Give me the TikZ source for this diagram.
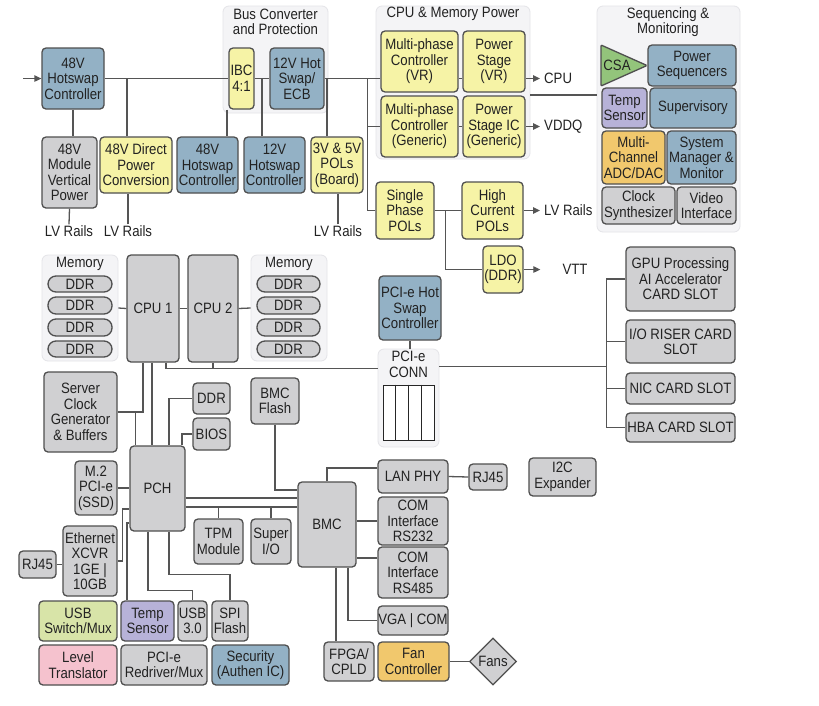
\documentclass[tikz,border=0pt]{standalone}
\usepackage{fontspec}
\setmainfont{Liberation Sans}[FakeStretch=0.88]
\usetikzlibrary{shapes.geometric,arrows.meta,calc}
\definecolor{edge}{HTML}{4F4F4F}
\definecolor{lc}{HTML}{555555}
\definecolor{txt}{HTML}{222222}
\definecolor{blueF}{HTML}{93B1C5}
\definecolor{yelF}{HTML}{F6F3A6}
\definecolor{grayF}{HTML}{D0D0D2}
\definecolor{orF}{HTML}{F1C86D}
\definecolor{grnF}{HTML}{93C47B}
\definecolor{usbF}{HTML}{D8E4A8}
\definecolor{purF}{HTML}{B7B2D8}
\definecolor{pinkF}{HTML}{F5C2CE}
\definecolor{grpF}{HTML}{F4F4F6}
\definecolor{grpE}{HTML}{E4E4E8}
\newcommand\dfont{\fontsize{15}{15.5}\selectfont}
\pgfdeclarelayer{bg}
\pgfdeclarelayer{mid}
\pgfsetlayers{bg,mid,main}
\tikzset{
  box/.style={draw=edge, line width=1.3pt, rounded corners=4pt, inner sep=0pt, align=center, text=txt, font=\dfont},
  blue/.style={fill=blueF}, yel/.style={fill=yelF}, gry/.style={fill=grayF},
  org/.style={fill=orF}, usbg/.style={fill=usbF}, pur/.style={fill=purF}, pnk/.style={fill=pinkF},
  pill/.style={fill=grayF, rounded corners=8pt},
  grp/.style={draw=grpE, fill=grpF, line width=0.8pt, rounded corners=6pt, inner sep=0pt},
  ttl/.style={align=center, inner sep=0pt, text=txt, font=\dfont},
  lbl/.style={inner sep=1pt, text=txt, font=\dfont},
  conn/.style={draw=lc, line width=1.3pt},
  arr/.style={conn, -{Triangle[length=7pt,width=6.5pt]}},
}
\newcommand\bx[7][]{\node[box,#1,minimum width={(#5)-(#3)},minimum height={(#6)-(#4)}] (#2) at ({(#3+#5)/2},{(#4+#6)/2}) {#7};}
\newcommand\gp[5]{\node[grp,minimum width={(#4)-(#2)},minimum height={(#5)-(#3)}] (#1) at ({(#2+#4)/2},{(#3+#5)/2}) {};}
\begin{document}
\begin{tikzpicture}[x=1pt,y=-1pt]
\useasboundingbox (0,0) rectangle (819,705);
\begin{pgfonlayer}{bg}
\fill[white] (0,0) rectangle (819,705);
\gp{bcp}{223}{6}{328}{113}
\gp{cpm}{376}{6}{530}{159}
\gp{seq}{597}{6}{740}{232}
\gp{memL}{42}{255}{118}{361}
\gp{memR}{251}{255}{327}{361}
\gp{pcc}{378}{349}{439}{447}
\end{pgfonlayer}
% group titles
\node[ttl] (t1) at (275.5,22) {Bus Converter\\and Protection};
\node[ttl] (t2) at (453,14) {CPU \& Memory Power};
\node[ttl] (t3) at (668,22) {Sequencing \&\\Monitoring};
\node[ttl] (t4) at (80,264) {Memory};
\node[ttl] (t5) at (289,264) {Memory};
\node[ttl] (t6) at (408.5,364.5) {PCI-e\\CONN};
% power, top
\bx[blue]{hsA}{42}{48}{104}{109}{48V\\Hotswap\\Controller}
\bx[yel]{ibc}{229}{48}{254}{109}{IBC\\4:1}
\bx[blue]{hsB}{270}{48}{324}{109}{12V Hot\\Swap/\\ECB}
\bx[gry]{mod}{42}{137}{97}{208}{48V\\Module\\Vertical\\Power}
\bx[yel]{dpc}{100}{137}{172}{193}{48V Direct\\Power\\Conversion}
\bx[blue]{hsC}{177}{137}{238}{193}{48V\\Hotswap\\Controller}
\bx[blue]{hsD}{244}{137}{305}{193}{12V\\Hotswap\\Controller}
\bx[yel]{pol}{311}{137}{363}{193}{3V \& 5V\\POLs\\(Board)}
\node[lbl] (lv1) at (69,231) {LV Rails};
\node[lbl] (lv2) at (128,231) {LV Rails};
\node[lbl] (lv3) at (338,231) {LV Rails};
% CPU & memory power
\bx[yel]{mpvr}{381}{31}{458}{92}{Multi-phase\\Controller\\(VR)}
\bx[yel]{psvr}{463}{31}{525}{92}{Power\\Stage\\(VR)}
\bx[yel]{mpg}{381}{96}{458}{157}{Multi-phase\\Controller\\(Generic)}
\bx[yel]{psg}{463}{96}{525}{157}{Power\\Stage IC\\(Generic)}
\bx[yel]{sp}{376}{182}{434}{239}{Single\\Phase\\POLs}
\bx[yel]{hc}{462}{182}{523}{239}{High\\Current\\POLs}
\bx[yel]{ldo}{483}{246}{523}{293}{LDO\\(DDR)}
\node[lbl,anchor=west] (cpuL) at (543,78.5) {CPU};
\node[lbl,anchor=west] (vddqL) at (543,126.5) {VDDQ};
\node[lbl,anchor=west] (lvH) at (543,210.5) {LV Rails};
\node[lbl] (vtt) at (575,269.5) {VTT};
% sequencing
\fill[grnF, draw=edge, line width=1.3pt, rounded corners=1pt] (601,45) -- (647,65.5) -- (601,86) -- cycle;
\node[ttl] (csa) at (617,65.5) {CSA};
\bx[blue]{pseq}{648}{45}{736}{86}{Power\\Sequencers}
\bx[pur]{ts1}{602}{88}{647}{128}{Temp\\Sensor}
\bx[blue]{sup}{650}{88}{736}{128}{Supervisory}
\bx[org]{adc}{602}{131}{665}{184}{Multi-\\Channel\\ADC/DAC}
\bx[blue]{sysm}{667}{131}{736}{184}{System\\Manager \&\\Monitor}
\bx[gry]{clks}{602}{187}{675}{224}{Clock\\Synthesizer}
\bx[gry]{vid}{677}{187}{736}{224}{Video\\Interface}
% memory & CPU
\bx[pill]{dl1}{48}{276}{112}{292}{DDR}
\bx[pill]{dl2}{48}{297}{112}{314}{DDR}
\bx[pill]{dl3}{48}{319}{112}{336}{DDR}
\bx[pill]{dl4}{48}{341}{112}{357}{DDR}
\bx[pill]{dr1}{257}{276}{320}{292}{DDR}
\bx[pill]{dr2}{257}{297}{320}{314}{DDR}
\bx[pill]{dr3}{257}{319}{320}{336}{DDR}
\bx[pill]{dr4}{257}{341}{320}{357}{DDR}
\bx[gry]{cpu1}{127}{255}{179}{362}{CPU 1}
\bx[gry]{cpu2}{188}{255}{238}{362}{CPU 2}
% PCIe
\bx[blue]{phs}{379}{276}{441}{340}{PCI-e Hot\\Swap\\Controller}
\node[draw=black!85, line width=1pt, minimum width=51pt, minimum height=55pt, inner sep=0pt, fill=white] (slots) at (408.5,412.5) {};
\draw[black!85, line width=1pt] ($(slots.north west)!0.25!(slots.north east)$) -- ($(slots.south west)!0.25!(slots.south east)$)
  ($(slots.north west)!0.5!(slots.north east)$) -- ($(slots.south west)!0.5!(slots.south east)$)
  ($(slots.north west)!0.75!(slots.north east)$) -- ($(slots.south west)!0.75!(slots.south east)$);
\bx[gry]{gpu}{626}{247}{735}{311}{GPU Processing\\AI Accelerator\\CARD SLOT}
\bx[gry]{io}{626}{320}{735}{363}{I/O RISER CARD\\SLOT}
\bx[gry]{nic}{626}{373}{735}{404}{NIC CARD SLOT}
\bx[gry]{hba}{626}{413}{735}{442}{HBA CARD SLOT}
% PCH area
\bx[gry]{clk}{44}{372}{117}{452}{Server\\Clock\\Generator\\\& Buffers}
\bx[gry]{ddrs}{193}{383}{230}{414}{DDR}
\bx[gry]{bios}{193}{418}{230}{450}{BIOS}
\bx[gry]{bmcf}{251}{378}{299}{424}{BMC\\Flash}
\bx[gry]{pch}{130}{446}{185}{531}{PCH}
\bx[gry]{m2}{75}{461}{117}{515}{M.2\\PCI-e\\(SSD)}
\bx[gry]{eth}{63}{526}{117}{596}{Ethernet\\XCVR\\1GE |\\10GB}
\bx[gry]{rjA}{19}{551}{56}{578}{RJ45}
\bx[gry]{tpm}{194}{519}{243}{564}{TPM\\Module}
\bx[gry]{sio}{251}{519}{291}{564}{Super\\I/O}
\bx[usbg]{usbsw}{39}{601}{117}{641}{USB\\Switch/Mux}
\bx[pur]{ts2}{121}{601}{174}{641}{Temp\\Sensor}
\bx[gry]{usb3}{178}{601}{207}{641}{USB\\3.0}
\bx[gry]{spi}{212}{601}{248}{641}{SPI\\Flash}
\bx[pnk]{lvl}{39}{645}{117}{685}{Level\\Translator}
\bx[gry]{redr}{121}{645}{207}{685}{PCI-e\\Redriver/Mux}
\bx[blue]{sec}{212}{645}{289}{685}{Security\\(Authen IC)}
% BMC area
\bx[gry]{bmc}{298}{482}{356}{567}{BMC}
\bx[gry]{lan}{378}{460}{448}{493}{LAN PHY}
\bx[gry]{rs232}{378}{497}{448}{545}{COM\\Interface\\RS232}
\bx[gry]{rs485}{378}{547}{448}{598}{COM\\Interface\\RS485}
\bx[gry]{vga}{378}{606}{448}{635}{VGA | COM}
\bx[gry]{fpga}{324}{642}{374}{681}{FPGA/\\CPLD}
\bx[org]{fan}{378}{642}{449}{681}{Fan\\Controller}
\bx[gry]{rjB}{469}{464}{507}{490}{RJ45}
\bx[gry]{i2c}{529}{458}{596}{496}{I2C\\Expander}
\node[diamond, draw=edge, fill=grayF, line width=1.3pt, minimum width=47pt, minimum height=47pt, inner sep=0pt, text=txt, font=\dfont] (fans) at (493,661.5) {Fans};
\coordinate (inA) at (23,78.5);
% connectors
\begin{pgfonlayer}{mid}
\draw[arr] (inA) -- (hsA.west);
\draw[conn] (hsA.east) -- (ibc.west);
\draw[conn] (ibc.east) -- (hsB.west);
\draw[conn] (hsB.east) -- (hsB.east -| mpvr.west);
\draw[conn] (hsA.south) -- (hsA.south |- mod.north);
\draw[conn] ([xshift=-9pt]dpc.north) -- ([xshift=-9pt]dpc.north |- hsA.east);
\draw[conn] ([xshift=-1.5pt]ibc.south west) -- ([xshift=-1.5pt]ibc.south west |- hsC.north);
\draw[conn] ([xshift=-12.5pt]hsD.north) -- ([xshift=-12.5pt]hsD.north |- ibc.east);
\draw[conn] ([xshift=-10pt]pol.north) -- ([xshift=-10pt]pol.north |- hsB.east);
\draw[conn] (sp.west) -- ++(-8,0) coordinate (jv) |- (hsB.east);
\draw[conn] (mpg.west) -- (mpg.west -| jv);
\draw[conn] ([yshift=-17pt]mpvr.east) -- ([yshift=-17pt]psvr.west);
\draw[arr] ([yshift=-17pt]psvr.east) -- ([xshift=-3pt]cpuL.west);
\draw[conn] (mpg.east) -- (psg.west);
\draw[arr] (psg.east) -- ([xshift=-3pt]vddqL.west);
\draw[conn] ([yshift=-12.5pt]cpm.east) -- ([yshift=-12.5pt]cpm.east -| seq.west);
\draw[conn] (sp.east) -- (hc.west);
\draw[arr] (hc.east) -- ([xshift=-3pt]lvH.west);
\draw[conn] (ldo.west) -| ([xshift=11pt]sp.east);
\draw[arr] (ldo.east) -- ([xshift=-21pt]vtt.west);
\draw[conn] (mod.south) -- (lv1.north);
\draw[conn] (lv2.north) -- (lv2.north |- dpc.south);
\draw[conn] (lv3.north) -- (lv3.north |- pol.south);
\draw[conn] (memL.east) -- (cpu1.west);
\draw[conn] (cpu1.east) -- (cpu2.west);
\draw[conn] (cpu2.east) -- (memR.west);
\draw[conn] ([xshift=13pt]cpu1.south) -- ++(0,6) coordinate (pj) -- (pj -| pcc.west);
\draw[conn] (cpu2.south) -- (cpu2.south |- pj);
\draw[conn] (gpu.west) -- ++(-19,0) coordinate (jb) |- (hba.west);
\draw[conn] (io.west) -- (io.west -| jb);
\draw[conn] (nic.west) -- (nic.west -| jb);
\draw[conn] ([yshift=2pt]pj -| pcc.east) -- ([yshift=2pt]pj -| jb);
\draw[conn] (phs.south) -- (phs.south |- pcc.north);
\draw[conn] (clk.east) -| ([xshift=-10pt]cpu1.south);
\draw[conn] ([xshift=18pt]clk.east) -- ([xshift=18pt]clk.east |- pch.north);
\draw[conn] ([xshift=-1pt]cpu1.south) -- ([xshift=-1pt]cpu1.south |- pch.north);
\draw[conn] (ddrs.west) -| ([xshift=11.5pt]pch.north);
\draw[conn] (bios.west) -| ([xshift=24.5pt]pch.north);
\draw[conn] (bmcf.south) |- ([yshift=34.5pt]bmc.west);
\draw[conn] ([yshift=-9.5pt]pch.east) -- ([yshift=-9.5pt]pch.east -| bmc.west);
\draw[conn] ([yshift=-18.5pt]pch.east) coordinate (l2) -- (l2 -| bmc.west);
\draw[conn] (tpm.north) -- (tpm.north |- l2);
\draw[conn] (sio.north) -- (sio.north |- l2);
\draw[conn] (m2.east) -- (m2.east -| pch.west);
\draw[conn] (eth.east) -- ++(5,0) |- ([yshift=-20.5pt]pch.west);
\draw[conn] (rjA.east) -- (rjA.east -| eth.west);
\draw[conn] ([xshift=-20.5pt]ts2.north) |- ([yshift=-34.5pt]pch.west);
\draw[conn] ([xshift=-9.5pt]pch.south) |- ([yshift=10pt]usb3.north) -- (usb3.north);
\draw[conn] ([xshift=11.5pt]pch.south) |- ([yshift=26pt]spi.north) -- (spi.north);
\draw[conn] (bmc.north) |- ([yshift=8.5pt]lan.west);
\draw[conn] (rs232.west) -- (rs232.west -| bmc.east);
\draw[conn] ([yshift=14.5pt]rs485.west) -- ([yshift=14.5pt]rs485.west -| bmc.east);
\draw[conn] ([xshift=21pt]bmc.south) |- (vga.west);
\draw[conn] ([xshift=9pt]bmc.south) -- ([xshift=9pt]bmc.south |- fpga.north);
\draw[conn] (lan.east) -- (rjB.west);
\draw[conn] (fan.east) -- (fans.west);
\end{pgfonlayer}
\end{tikzpicture}
\end{document}
